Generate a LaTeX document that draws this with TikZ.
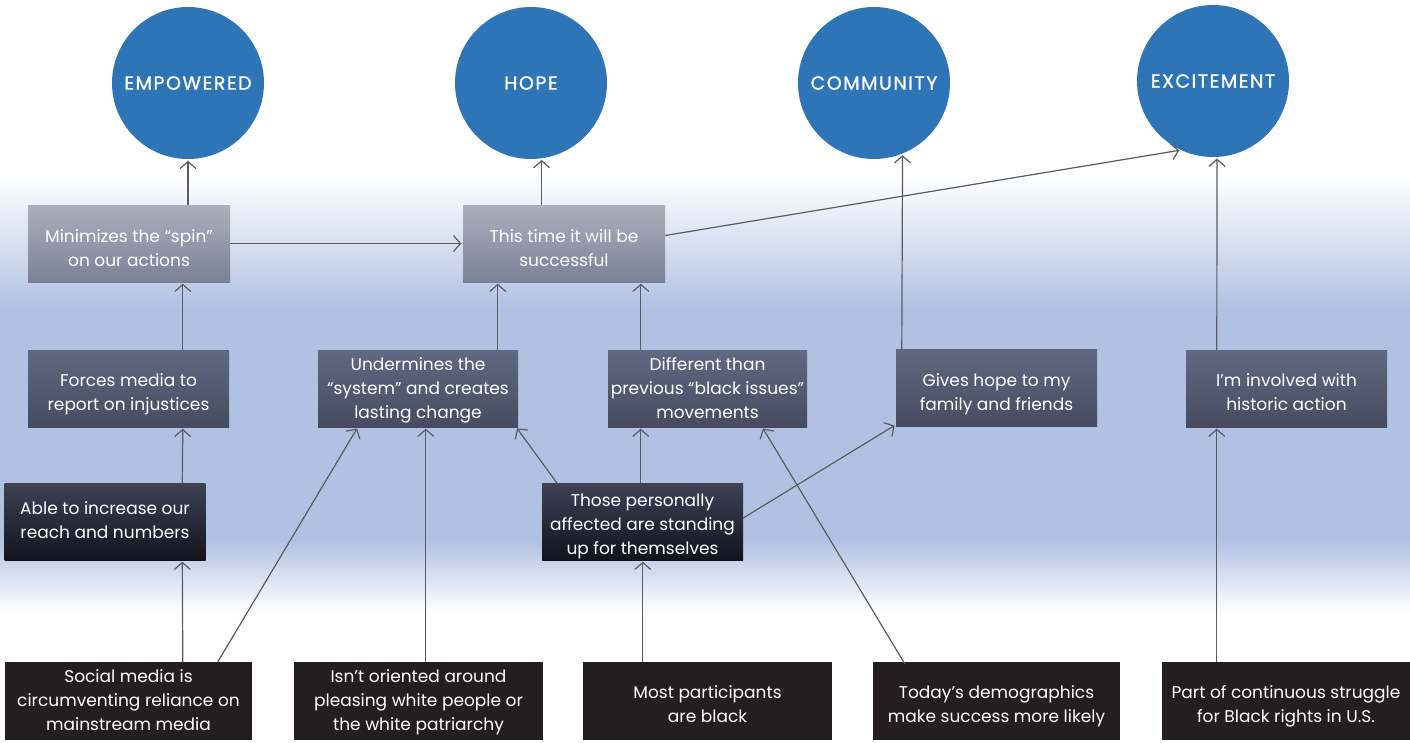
\documentclass[tikz,border=0pt]{standalone}
\usepackage{fontspec}
\setmainfont{Poppins}
\newfontfamily\circfont[FakeBold=1.2,LetterSpace=8]{Poppins}
\usetikzlibrary{arrows.meta,calc}
\definecolor{circ}{HTML}{2E75B8}
\definecolor{bgb}{HTML}{B0C1E2}
\definecolor{lgt}{HTML}{ACAFBD}
\definecolor{lgb}{HTML}{7B8196}
\definecolor{mdt}{HTML}{5F6981}
\definecolor{mdb}{HTML}{474B61}
\definecolor{dkt}{HTML}{3D4256}
\definecolor{dkb}{HTML}{13131E}
\definecolor{blk}{HTML}{231F20}
\definecolor{arrc}{HTML}{5C5C60}
\begin{document}
\begin{tikzpicture}[x=1pt,y=-1pt,
  every node/.style={font=\fontsize{17}{24}\selectfont, text=white, align=center, inner sep=0pt},
  emo/.style={circle, fill=circ, minimum size=152pt, font=\fontsize{19}{22}\selectfont\circfont},
  cbox/.style={minimum width=#1, minimum height=77pt},
  bl/.style={text height=#1, text depth=0pt},
  lbox/.style={cbox=202pt, top color=lgt, bottom color=lgb},
  mbox/.style={cbox=#1, top color=mdt, bottom color=mdb},
  dbox/.style={cbox=201pt, top color=dkt, bottom color=dkb},
  bbox/.style={cbox=#1, fill=blk, minimum height=78pt},
  link/.style={draw=arrc, line width=1.2pt, -{Straight Barb[length=7pt,width=16pt]}, shorten >=1.5pt}
]
\useasboundingbox (0,0) rectangle (1410,742);
% background
\fill[white] (0,0) rectangle (1410,742);
\shade[top color=white, bottom color=bgb] (0,175) rectangle (1410,310);
\fill[bgb] (0,309.5) rectangle (1410,540.5);
\shade[top color=bgb, bottom color=white] (0,540) rectangle (1410,612);

% emotion circles
\node[emo] (emp) at (188,83) {EMPOWERED};
\node[emo] (hope) at (531,83) {HOPE};
\node[emo] (comm) at (874,83) {COMMUNITY};
\node[emo] (exc) at (1213,81) {EXCITEMENT};

% boxes
\node[lbox,bl=46pt] (min) at (129,243.5) {Minimizes the “spin”\\on our actions};
\node[lbox,bl=46pt] (this) at (564,243.5) {This time it will be\\successful};
\node[mbox=201pt,bl=44pt] (forces) at (128.5,388.5) {Forces media to\\report on injustices};
\node[mbox=200pt,bl=60pt] (under) at (418,388.5) {Undermines the\\“system” and creates\\lasting change};
\node[mbox=199pt,bl=60pt] (diff) at (707.5,388.5) {Different than\\previous “black issues”\\movements};
\node[mbox=201pt,bl=45pt] (gives) at (996.5,388) {Gives hope to my\\family and friends};
\node[mbox=201pt,bl=44pt] (inv) at (1286.5,388.5) {I’m involved with\\historic action};
\node[dbox,bl=34pt] (able) at (105,521.5) {Able to increase our\\reach and numbers};
\node[dbox,bl=66pt] (those) at (642.5,521.5) {Those personally\\affected are standing\\up for themselves};
\node[bbox=247pt,bl=59pt] (soc) at (128.5,701) {Social media is\\circumventing reliance on\\mainstream media};
\node[bbox=249pt,bl=59pt] (isnt) at (418.5,701) {Isn’t oriented around\\pleasing white people or\\the white patriarchy};
\node[bbox=249pt,bl=43pt] (most) at (707.5,701) {Most participants\\are black};
\node[bbox=247pt,bl=43pt] (today) at (996.5,701) {Today’s demographics\\make success more likely};
\node[bbox=248pt,bl=43pt] (part) at (1286,701) {Part of continuous struggle\\for Black rights in U.S.};

% connectors
\draw[link] (emp.south |- min.north) -- (emp.south);
\draw[link] (hope.-82.4 |- this.north) -- (hope.-82.4);
\draw[link] (min.east) -- (this.west);
\draw[link] ($(this.east)+(0,-8)$) -- (exc.-115);
\draw[link] ($(forces.north west)+(155,0)$) -- ($(min.south west)+(155,0)$);
\draw[link] ($(under.north west)+(180,0)$) -- ($(this.south west)+(35,0)$);
\draw[link] ($(diff.north west)+(33,0)$) -- ($(this.south west)+(178,0)$);
\draw[link] ($(gives.north west)+(6,0)$) -- (comm.-68.4);
\draw[link] ($(inv.north west)+(31,0)$) -- (exc.-87);
\draw[link] ($(able.north west)+(178,0)$) -- ($(forces.south west)+(155,0)$);
\draw[link] ($(soc.north west)+(178,0)$) -- ($(able.south west)+(178,0)$);
\draw[link] ($(soc.north west)+(213,0)$) -- ($(under.south west)+(40,0)$);
\draw[link] ($(isnt.north west)+(132,0)$) -- ($(under.south west)+(108,0)$);
\draw[link] ($(those.north west)+(15,0)$) -- ($(under.south east)+(-2,0)$);
\draw[link] ($(those.north west)+(99,0)$) -- ($(diff.south west)+(33,0)$);
\draw[link] ($(those.east)+(0,-3.5)$) -- ($(gives.south west)+(0,-2)$);
\draw[link] ($(most.north west)+(60,0)$) -- ($(those.south west)+(101,0)$);
\draw[link] ($(today.north west)+(32,2)$) -- ($(diff.south east)+(-45,0)$);
\draw[link] ($(part.north west)+(55,0)$) -- ($(inv.south west)+(31,0)$);
\end{tikzpicture}
\end{document}
